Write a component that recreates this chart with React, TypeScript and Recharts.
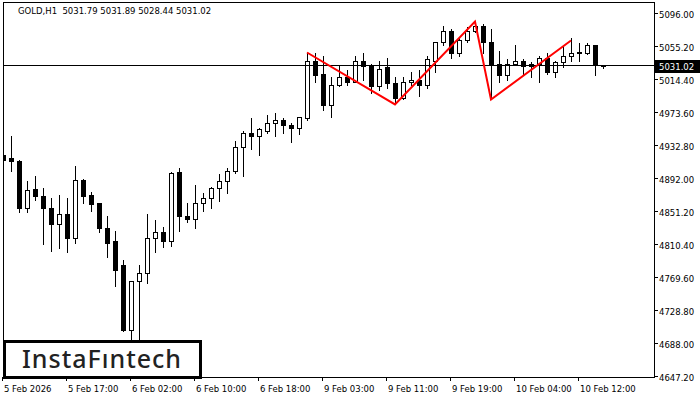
import React from 'react';
import { ComposedChart, Bar, Line, XAxis, YAxis, ReferenceLine } from 'recharts';

const symbolTitle = 'GOLD,H1';

const opens = [
  4920.9, 4916.0, 4912.3, 4855.3, 4877.6, 4869.0, 4854.1, 4835.5, 4846.7, 4818.2,
  4888.8, 4870.2, 4860.3, 4829.4, 4813.3, 4783.6, 4703.2, 4763.8, 4773.7, 4817.0,
  4824.4, 4813.3, 4898.7, 4845.4, 4840.5, 4860.3, 4866.5, 4878.9, 4887.5, 4899.9,
  4929.6, 4948.1, 4943.2, 4950.6, 4960.5, 4963.0, 4958.0, 4953.1, 4965.5, 5036.0,
  5021.1, 4981.6, 5006.3, 5016.2, 5011.2, 5036.0, 5031.0, 5005.1, 5028.6, 5008.8,
  4990.2, 5011.2, 5013.7, 5006.3, 5037.2, 5059.5, 5073.1, 5047.1, 5062.0, 5073.1,
  5079.3, 5059.5, 5032.3, 5018.7, 5033.5, 5037.2, 5032.3, 5032.3, 5039.7, 5023.6,
  5034.8, 5042.2, 5047.1, 5047.1, 5055.8, 5031.79,
];
const highs = [
  4940.7, 4944.4, 4914.7, 4887.5, 4894.9, 4878.9, 4867.7, 4870.2, 4866.5, 4906.1,
  4891.2, 4875.1, 4861.5, 4844.2, 4825.7, 4789.8, 4765.0, 4784.8, 4846.7, 4839.3,
  4831.8, 4898.7, 4903.6, 4861.5, 4882.6, 4872.7, 4880.1, 4896.2, 4903.6, 4938.2,
  4950.6, 4965.5, 4953.1, 4969.2, 4971.7, 4965.5, 4959.3, 4967.9, 5047.1, 5045.9,
  5042.2, 5017.4, 5031.0, 5024.9, 5042.2, 5045.9, 5032.3, 5036.0, 5040.9, 5016.2,
  5017.4, 5022.4, 5024.9, 5042.2, 5060.7, 5080.5, 5076.8, 5065.7, 5078.1, 5085.5,
  5081.8, 5075.6, 5048.4, 5038.5, 5055.8, 5038.5, 5034.8, 5042.2, 5045.9, 5036.0,
  5054.6, 5064.5, 5058.3, 5058.3, 5057.0, 5031.89,
];
const lows = [
  4896.2, 4899.9, 4849.2, 4849.2, 4864.0, 4809.6, 4802.1, 4804.6, 4799.7, 4812.0,
  4860.3, 4850.4, 4824.4, 4793.5, 4758.8, 4702.0, 4679.6, 4685.8, 4761.3, 4799.7,
  4805.9, 4808.3, 4825.7, 4838.0, 4829.4, 4851.6, 4854.1, 4862.8, 4872.7, 4897.4,
  4893.7, 4928.3, 4920.9, 4948.1, 4943.2, 4948.1, 4935.8, 4945.7, 4964.2, 5011.2,
  4975.4, 4967.9, 5005.1, 5006.3, 5010.0, 5012.5, 4997.6, 5001.3, 5002.6, 4984.0,
  4989.0, 5006.3, 4993.9, 5002.6, 5022.4, 5055.8, 5039.7, 5043.4, 5060.7, 5072.5,
  5047.1, 4989.0, 5010.0, 5012.5, 5032.3, 5019.9, 5017.4, 5011.2, 5019.9, 5017.4,
  5028.6, 5036.0, 5036.0, 5044.7, 5018.7, 5028.44,
];
const closes = [
  4914.7, 4912.3, 4855.3, 4877.6, 4869.0, 4854.1, 4835.5, 4846.7, 4818.2, 4888.8,
  4869.0, 4859.1, 4829.4, 4812.0, 4777.4, 4703.2, 4763.8, 4774.9, 4817.0, 4824.4,
  4813.3, 4897.4, 4845.4, 4840.5, 4861.5, 4866.5, 4878.9, 4887.5, 4901.1, 4929.6,
  4948.1, 4943.2, 4951.9, 4960.5, 4963.0, 4956.8, 4953.1, 4966.7, 5036.0, 5018.7,
  4981.6, 5007.5, 5016.2, 5011.2, 5036.0, 5029.8, 5005.1, 5027.3, 5008.8, 4990.2,
  5011.2, 5013.7, 5006.3, 5038.5, 5059.5, 5073.1, 5047.1, 5062.0, 5073.1, 5079.3,
  5059.5, 5032.3, 5018.7, 5033.5, 5037.2, 5031.0, 5031.0, 5039.7, 5023.6, 5034.8,
  5042.2, 5047.1, 5047.6, 5055.8, 5032.3, 5031.02,
];

const xTickIndex = [0, 8, 16, 24, 32, 40, 48, 56, 64, 72];
const xTickLabels = [
  '5 Feb 2026', '5 Feb 17:00', '6 Feb 02:00', '6 Feb 10:00', '6 Feb 18:00',
  '9 Feb 03:00', '9 Feb 11:00', '9 Feb 19:00', '10 Feb 04:00', '10 Feb 12:00',
];
const yTicks = [
  4647.2, 4688.0, 4728.8, 4769.6, 4810.4, 4851.2, 4892.0, 4932.8, 4973.6, 5014.4, 5055.2, 5096.0,
];
const patternIndex = [38, 49, 59, 61, 71];
const patternPrice = [5047.1, 4982.8, 5085.5, 4989.0, 5062.0];

const Y_DOMAIN: [number, number] = [4645.6, 5109.6];
const X_DOMAIN: [number, number] = [0, 81.375];

const data = opens.map((o, i) => {
  const pi = patternIndex.indexOf(i);
  return {
    i,
    open: o,
    high: highs[i],
    low: lows[i],
    close: closes[i],
    range: [lows[i], highs[i]],
    pattern: pi >= 0 ? patternPrice[pi] : null,
  };
});

const last = data[data.length - 1];
const FONT = '"DejaVu Sans", sans-serif';

const Candle = (props: any) => {
  const { x, y, width, height, payload } = props;
  if (!payload || x == null) return null;
  const { open, high, low, close } = payload;
  const cx = Math.round(x + width / 2);
  const yTop = Math.min(y, y + height);
  const yBot = Math.max(y, y + height);
  const span = high - low;
  const toY = (p: number) => (span > 0 ? yTop + ((high - p) / span) * (yBot - yTop) : yTop);
  const yH = Math.round(toY(high));
  const yL = Math.round(toY(low));
  const yO = Math.round(toY(open));
  const yC = Math.round(toY(close));
  const top = Math.min(yO, yC);
  const bot = Math.max(yO, yC);
  const bull = close >= open;
  return (
    <g>
      <line x1={cx + 0.5} x2={cx + 0.5} y1={yH} y2={yL + 1} stroke="#000" strokeWidth={1} />
      {bot - top >= 1 ? (
        <rect
          x={cx - 1.5}
          y={top + 0.5}
          width={4}
          height={bot - top}
          fill={bull ? '#fff' : '#000'}
          stroke="#000"
          strokeWidth={1}
        />
      ) : (
        <line x1={cx - 2} x2={cx + 3} y1={top + 0.5} y2={top + 0.5} stroke="#000" strokeWidth={1} />
      )}
    </g>
  );
};

const XTick = (props: any) => {
  const { x, y, payload } = props;
  const idx = xTickIndex.indexOf(payload.value);
  const label = idx >= 0 ? xTickLabels[idx] : '';
  const px = Math.round(x);
  return (
    <g>
      <line x1={px - 0.5} x2={px - 0.5} y1={y} y2={y + 4} stroke="#000" strokeWidth={1} />
      <text x={px + 1} y={y + 15} textAnchor="start" fontFamily={FONT} fontSize={8.5} fill="#000">
        {label}
      </text>
    </g>
  );
};

const YTick = (props: any) => {
  const { x, y, payload } = props;
  const py = Math.round(y);
  return (
    <g>
      <line x1={x} x2={x + 4} y1={py + 0.5} y2={py + 0.5} stroke="#000" strokeWidth={1} />
      <text x={x + 5} y={py + 5} textAnchor="start" fontFamily={FONT} fontSize={8.5} fill="#000">
        {Number(payload.value).toFixed(2)}
      </text>
    </g>
  );
};

const PriceLabel = (props: any) => {
  const vb = props.viewBox || {};
  const x0 = (vb.x || 0) + (vb.width || 0) + 1;
  const yc = Math.round(vb.y || 0);
  return (
    <g>
      <rect x={x0} y={yc - 6} width={46} height={13} fill="#000" />
      <text x={x0 + 4} y={yc + 4} fontFamily={FONT} fontSize={8.5} fill="#fff" textAnchor="start">
        {last.close.toFixed(2)}
      </text>
    </g>
  );
};

export default function App() {
  const title = `${symbolTitle}  ${last.open.toFixed(2)} ${last.high.toFixed(2)} ${last.low.toFixed(2)} ${last.close.toFixed(2)}`;
  return (
    <div style={{ position: 'relative', width: 700, height: 400, background: '#fff' }}>
      <style>{'html,body{margin:0;padding:0;background:#fff}'}</style>
      <ComposedChart
        width={700}
        height={400}
        data={data}
        margin={{ top: 2, right: 0, bottom: 0, left: 3 }}
      >
        <XAxis
          dataKey="i"
          type="number"
          domain={X_DOMAIN}
          allowDataOverflow
          ticks={xTickIndex}
          interval={0}
          height={23}
          axisLine={false}
          tickLine={false}
          tickSize={0}
          tickMargin={0}
          tick={<XTick />}
        />
        <YAxis
          orientation="right"
          type="number"
          domain={Y_DOMAIN}
          allowDataOverflow
          ticks={yTicks}
          interval={0}
          width={46}
          axisLine={false}
          tickLine={false}
          tickSize={0}
          tickMargin={0}
          tick={<YTick />}
        />
        <ReferenceLine
          y={last.close}
          stroke="#000"
          strokeWidth={1}
          ifOverflow="visible"
          label={(p: any) => <PriceLabel {...p} />}
        />
        <Bar dataKey="range" barSize={5} shape={<Candle />} isAnimationActive={false} />
        <Line
          dataKey="pattern"
          stroke="#ff0000"
          strokeWidth={2}
          dot={false}
          activeDot={false}
          connectNulls
          isAnimationActive={false}
        />
      </ComposedChart>
      <svg
        width={700}
        height={400}
        style={{ position: 'absolute', left: 0, top: 0, pointerEvents: 'none' }}
      >
        <rect x={3.5} y={2.5} width={651} height={375} fill="none" stroke="#000" strokeWidth={1} />
        <text x={18} y={14} fontFamily={FONT} fontSize={8.5} fill="#000" style={{ whiteSpace: 'pre' }} xmlSpace="preserve">
          {title}
        </text>
        <rect x={4.5} y={341.5} width={196} height={36} fill="#fff" stroke="#000" strokeWidth={3} />
        <text
          x={22}
          y={368}
          fontFamily='"Noto Sans", sans-serif'
          fontWeight={500}
          fontSize={25}
          fill="#222"
          textLength={159}
          lengthAdjust="spacing"
        >
          InstaFıntech
        </text>
      </svg>
    </div>
  );
}
